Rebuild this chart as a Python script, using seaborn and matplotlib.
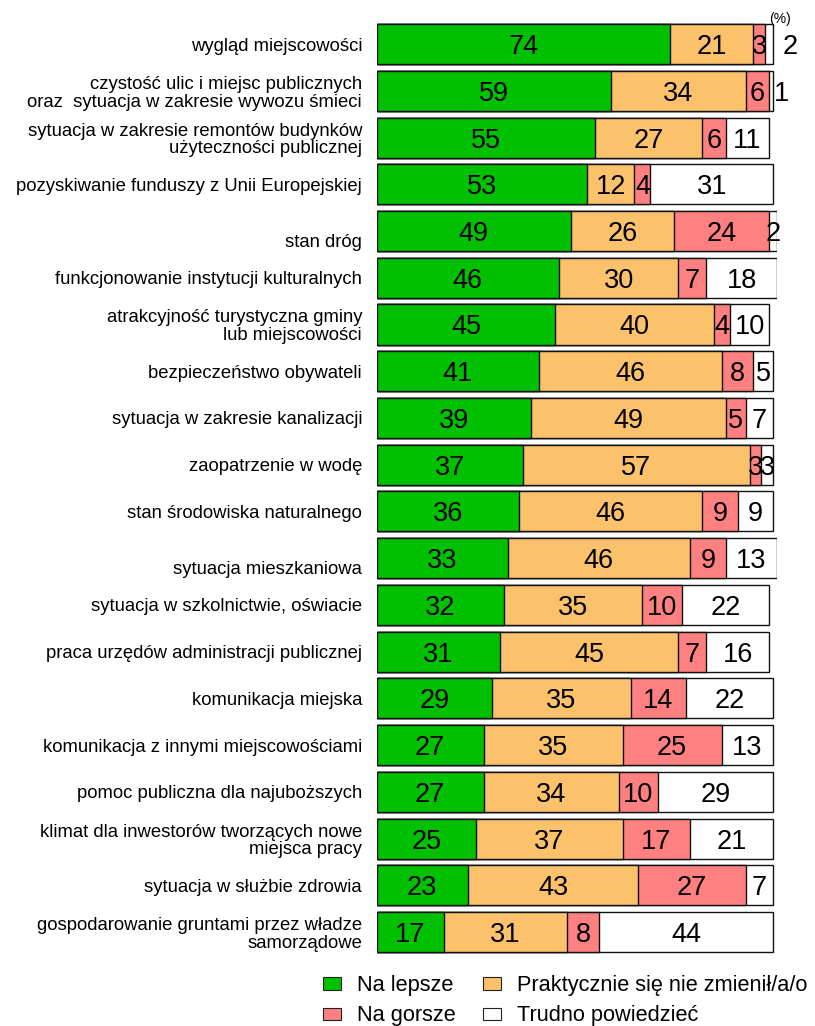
import matplotlib.pyplot as plt
from matplotlib.patches import Patch
import seaborn as sns
import numpy as np
import pandas as pd

# Data
categories = [
    'wygląd miejscowości',
    'czystość ulic i miejsc publicznych\noraz  sytuacja w zakresie wywozu śmieci',
    'sytuacja w zakresie remontów budynków\nużyteczności publicznej',
    'pozyskiwanie funduszy z Unii Europejskiej',
    '\nstan dróg',
    'funkcjonowanie instytucji kulturalnych',
    'atrakcyjność turystyczna gminy\nlub miejscowości',
    'bezpieczeństwo obywateli',
    'sytuacja w zakresie kanalizacji',
    'zaopatrzenie w wodę',
    'stan środowiska naturalnego',
    '\nsytuacja mieszkaniowa',
    'sytuacja w szkolnictwie, oświacie',
    'praca urzędów administracji publicznej',
    'komunikacja miejska',
    'komunikacja z innymi miejscowościami',
    'pomoc publiczna dla najuboższych',
    'klimat dla inwestorów tworzących nowe\nmiejsca pracy',
    'sytuacja w służbie zdrowia',
    'gospodarowanie gruntami przez władze\nsamorządowe',
]
better = [74, 59, 55, 53, 49, 46, 45, 41, 39, 37, 36, 33, 32, 31, 29, 27, 27, 25, 23, 17]
same = [21, 34, 27, 12, 26, 30, 40, 46, 49, 57, 46, 46, 35, 45, 35, 35, 34, 37, 43, 31]
worse = [3, 6, 6, 4, 24, 7, 4, 8, 5, 3, 9, 9, 10, 7, 14, 25, 10, 17, 27, 8]
hard = [2, 1, 11, 31, 2, 18, 10, 5, 7, 3, 9, 13, 22, 16, 22, 13, 29, 21, 7, 44]
series_names = ['Na lepsze', 'Praktycznie się nie zmienił/a/o', 'Na gorsze', 'Trudno powiedzieć']

colors = ['#00C000', '#FCC16B', '#FF8080', '#FFFFFF']

df = pd.DataFrame({'cat': categories, 'better': better, 'same': same,
                   'worse': worse, 'hard': hard})
cols = ['better', 'same', 'worse', 'hard']
cum = df[cols].cumsum(axis=1)

sns.set_style('white')
plt.rcParams['font.family'] = ['Liberation Sans', 'DejaVu Sans']
plt.rcParams['text.color'] = 'black'
plt.rcParams['ytick.color'] = 'black'

fig = plt.figure(figsize=(8.15, 10.26), dpi=100)
ax = fig.add_axes([0.4622, 0.0688, 0.4915, 0.911])

# stacked bars drawn as overlapping cumulative bars (last series first)
for col, c in zip(cols[::-1], colors[::-1]):
    sns.barplot(x=cum[col], y=df['cat'], color=c, saturation=1, orient='h',
                width=0.856, edgecolor='#111111', linewidth=1.0, ax=ax)

ax.set_xlim(0, 101)
ax.set_ylim(len(categories) - 0.5, -0.5)

# segment labels
shift = {0: 15, 1: 7}
for i in range(len(df)):
    for j, col in enumerate(cols):
        v = df.loc[i, col]
        xc = cum.loc[i, col] - v / 2
        dx = shift.get(i, 0) if col == 'hard' else 0
        ax.annotate(str(v), (xc, i), xytext=(dx, 0), textcoords='offset points',
                    ha='center', va='center_baseline', fontsize=19.5, color='black')

ax.set_xticks([])
ax.set_xlabel('')
ax.set_ylabel('')
ax.tick_params(axis='y', length=0, pad=10.5, labelsize=13.3, labelcolor='black')
for t in ax.get_yticklabels():
    t.set_linespacing(1.07)
sns.despine(ax=ax, left=True, bottom=True)

fig.text(0.957, 0.9815, '(%)', fontsize=10, ha='center', va='center')

handles = [Patch(facecolor=c, edgecolor='#222222', linewidth=0.8) for c in colors]
fig.legend([handles[0], handles[2], handles[1], handles[3]],
           [series_names[0], series_names[2], series_names[1], series_names[3]],
           ncol=2, loc='upper left', bbox_to_anchor=(0.3963, 0.0495),
           frameon=False, fontsize=15.7, handlelength=0.83, handleheight=0.48,
           handletextpad=0.72, columnspacing=1.25, labelspacing=0.42,
           borderpad=0, borderaxespad=0)

plt.savefig('out.png', dpi=100)
